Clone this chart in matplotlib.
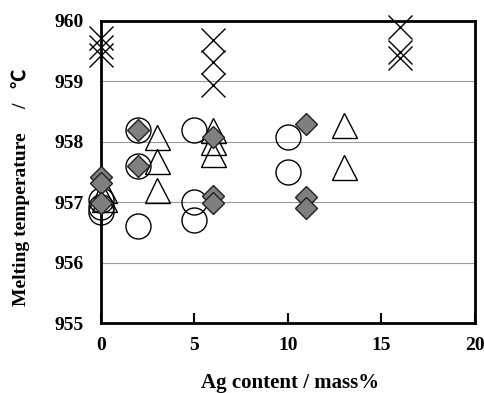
import matplotlib.pyplot as plt

# Melting temperature vs Ag content, four sample groups
cross_ag = [0, 0, 0, 6, 6, 6, 16, 16, 16]
cross_t = [959.72, 959.57, 959.43, 959.68, 959.32, 958.94, 959.9, 959.49, 959.39]

circle_ag = [0, 0, 0, 2, 2, 2, 5, 5, 5, 10, 10]
circle_t = [957.03, 956.92, 956.83, 958.2, 957.6, 956.6, 958.2, 957.0, 956.7, 958.08, 957.5]

tri_ag = [0.2, 0.2, 3, 3, 3, 6, 6, 6, 13, 13]
tri_t = [957.2, 957.05, 958.08, 957.68, 957.2, 958.2, 958.0, 957.8, 958.28, 957.58]

dia_ag = [0, 0, 0, 2, 2, 6, 6, 6, 11, 11, 11]
dia_t = [957.42, 957.31, 956.98, 958.2, 957.6, 958.08, 957.1, 956.98, 958.3, 957.09, 956.9]

xticks = [0, 5, 10, 15, 20]
yticks = [955, 956, 957, 958, 959, 960]

plt.rcParams['font.family'] = ['Liberation Serif', 'DejaVu Serif']
plt.rcParams['font.weight'] = 'bold'

fig = plt.figure(figsize=(4.84, 3.93), dpi=100)
ax = fig.add_axes([0.208, 0.178, 0.773, 0.769])

ax.plot(circle_ag, circle_t, 'o', ms=18, mfc='none', mec='black', mew=1.0, clip_on=False, zorder=3)
ax.plot(tri_ag, tri_t, '^', ms=18, mfc='none', mec='black', mew=1.0, clip_on=False, zorder=3)
ax.plot(dia_ag, dia_t, 'D', ms=11, mfc='#7f7f7f', mec='#222222', mew=1.0, clip_on=False, zorder=4)
ax.plot(cross_ag, cross_t, 'x', ms=17, mec='black', mew=1.0, clip_on=False, zorder=4)

ax.set_xlim(0, 20)
ax.set_ylim(955, 960)
ax.set_xticks(xticks)
ax.set_yticks(yticks)
ax.tick_params(axis='x', direction='in', length=7.5, width=1.5, pad=10, labelsize=14)
ax.tick_params(axis='y', length=0, pad=12, labelsize=14)
for lab in ax.get_xticklabels() + ax.get_yticklabels():
    lab.set_fontweight('bold')

for y in yticks[1:-1]:
    ax.axhline(y, color='#999999', lw=0.8, zorder=1)

for sp in ax.spines.values():
    sp.set_linewidth(2)

ax.set_xlabel('Ag content / mass%', fontsize=15, fontweight='bold')
ax.xaxis.set_label_coords(0.505, -0.165)
ax.set_ylabel('Melting temperature     /   \u2103', fontsize=14, fontweight='bold',
              family=['Liberation Serif', 'Noto Sans CJK JP'])
ax.yaxis.set_label_coords(-0.19, 0.45)

fig.savefig('out.png', dpi=100)
